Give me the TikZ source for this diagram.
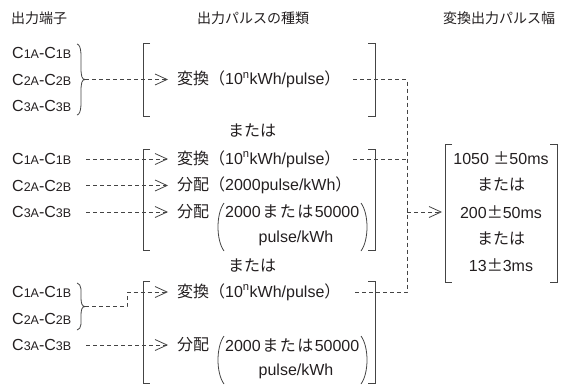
\documentclass[tikz,border=0pt]{standalone}
\usepackage{fontspec}
\setmainfont{Liberation Sans}
\newfontfamily\jp{Noto Sans CJK JP}
\usetikzlibrary{arrows.meta}
\definecolor{ink}{HTML}{231F20}
\definecolor{lin}{HTML}{444444}
\newcommand{\smc}[1]{{\fontsize{12.5}{13}\selectfont #1}}
\newcommand{\henkan}{{\jp 変換（}10\textsuperscript{n}kWh/pulse{\jp ）}}
\newcommand{\mataha}{{\jp\hspace{1.5pt}ま\hspace{1.5pt}た\hspace{1.5pt}は\hspace{1.5pt}}}
\begin{document}
\begin{tikzpicture}[x=1pt,y=-1pt,
  font=\fontsize{16}{19}\selectfont, text=ink,
  hdr/.style={inner sep=0pt,font=\fontsize{14}{16}\selectfont\jp},
  lbl/.style={anchor=west,inner sep=0pt},
  txt/.style={anchor=west,inner sep=0pt},
  ctr/.style={inner sep=0pt},
  brk/.style={draw=lin,line width=0.9pt},
  brc/.style={draw=lin,line width=0.8pt},
  dsh/.style={draw=lin,line width=0.8pt,dash pattern=on 4pt off 3pt},
  con/.style={dsh,-{Straight Barb[length=12pt,width=11pt,line width=0.8pt]}}]
\useasboundingbox (0,0) rectangle (575,389);

% headers
\node[hdr,anchor=west] (h1) at (11,18) {出力端子};
\node[hdr] (h2) at (253,18) {出力パルスの種類};
\node[hdr] (h3) at (499,18) {変換出力パルス幅};

% ---------- top group
\node[lbl] (a1) at (12,53) {C\smc{1A}-C\smc{1B}};
\node[lbl] (a2) at (12,79.5) {C\smc{2A}-C\smc{2B}};
\node[lbl] (a3) at (12,106) {C\smc{3A}-C\smc{3B}};
\draw[brc] (77,44) .. controls (82,45) and (81,58) .. (81,68)
  .. controls (81,76) and (82,79.5) .. (85,79.5)
  .. controls (82,79.5) and (81,83) .. (81,91)
  .. controls (81,101) and (82,114) .. (77,115);
\coordinate (ab) at (85,79.5);
\draw[brk] (150,43) -- (143,43) -- (143,116) -- (150,116);
\draw[brk] (368,43) -- (375,43) -- (375,116) -- (368,116);
\node[txt] (av) at (177,79.5) {\henkan};
\draw[con] (ab) -- ([xshift=-9pt]av.west);
\coordinate (ar) at (353,79.5);
\coordinate (va) at (407,79.5);

\node[ctr] (or1) at (252,131) {\jp または};

% ---------- middle group
\node[lbl] (b1) at (12,159) {C\smc{1A}-C\smc{1B}};
\node[lbl] (b2) at (12,185.5) {C\smc{2A}-C\smc{2B}};
\node[lbl] (b3) at (12,212) {C\smc{3A}-C\smc{3B}};
\draw[brk] (150,149) -- (143,149) -- (143,250) -- (150,250);
\draw[brk] (368,149) -- (375,149) -- (375,250) -- (368,250);
\node[txt] (bv) at (177,159) {\henkan};
\node[txt] (bd) at (177,185.5) {{\jp 分配（}2000pulse/kWh{\jp ）}};
\node[txt] (be) at (177,212) {\jp 分配};
\node[txt] (bn) at (225,212) {2000\mataha 50000};
\node[ctr] (bu) at (296,238.5) {pulse/kWh};
\draw[brc] (224,203) .. controls (216,214) and (216,240) .. (224,251);
\draw[brc] (361,203) .. controls (369,214) and (369,240) .. (361,251);
\coordinate (b1s) at (86,159);
\coordinate (b2s) at (86,185.5);
\coordinate (b3s) at (86,212);
\draw[con] (b1s) -- ([xshift=-9pt]bv.west);
\draw[con] (b2s) -- ([xshift=-9pt]bd.west);
\draw[con] (b3s) -- ([xshift=-9pt]be.west);
\coordinate (br) at (353,159);
\coordinate (vb) at (407,159);
\coordinate (vc) at (407,212);

% ---------- result bracket
\draw[brk] (452,144) -- (445,144) -- (445,282) -- (452,282);
\draw[brk] (550,144) -- (557,144) -- (557,282) -- (550,282);
\node[ctr] (r1) at (501,158) {1050 {\jp ±}50ms};
\node[ctr] (r2) at (501,185) {\jp または};
\node[ctr] (r3) at (501,212) {200{\jp ±}50ms};
\node[ctr] (r4) at (501,238.5) {\jp または};
\node[ctr] (r5) at (501,265) {13{\jp ±}3ms};
\coordinate (rin) at (442,212);

\node[ctr] (or2) at (252,266) {\jp または};

% ---------- bottom group
\node[lbl] (c1) at (12,292) {C\smc{1A}-C\smc{1B}};
\node[lbl] (c2) at (12,318.5) {C\smc{2A}-C\smc{2B}};
\node[lbl] (c3) at (12,345) {C\smc{3A}-C\smc{3B}};
\draw[brc] (77,283) .. controls (82,284) and (81,292) .. (81,298)
  .. controls (81,303) and (82,306.5) .. (85,306.5)
  .. controls (82,306.5) and (81,310) .. (81,315)
  .. controls (81,322) and (82,329) .. (77,330);
\coordinate (cb) at (85,306.5);
\coordinate (ck) at (127,306.5);
\draw[brk] (150,281) -- (143,281) -- (143,383) -- (150,383);
\draw[brk] (368,281) -- (375,281) -- (375,383) -- (368,383);
\node[txt] (cv) at (177,292) {\henkan};
\node[txt] (ce) at (177,345) {\jp 分配};
\node[txt] (cn) at (225,345) {2000\mataha 50000};
\node[ctr] (cu) at (296,371.5) {pulse/kWh};
\draw[brc] (224,336) .. controls (216,347) and (216,373) .. (224,384);
\draw[brc] (361,336) .. controls (369,347) and (369,373) .. (361,384);
\coordinate (c3s) at (86,345);
\draw[con] (cb) -- (ck) |- ([xshift=-9pt]cv.west);
\draw[con] (c3s) -- ([xshift=-9pt]ce.west);
\coordinate (cr) at (353,292);
\coordinate (vd) at (407,292);

% ---------- right collector
\draw[dsh] (ar) -- (va) -- (vd) -- (cr);
\draw[dsh] (br) -- (vb);
\draw[con] (vc) -- (rin);
\end{tikzpicture}
\end{document}
